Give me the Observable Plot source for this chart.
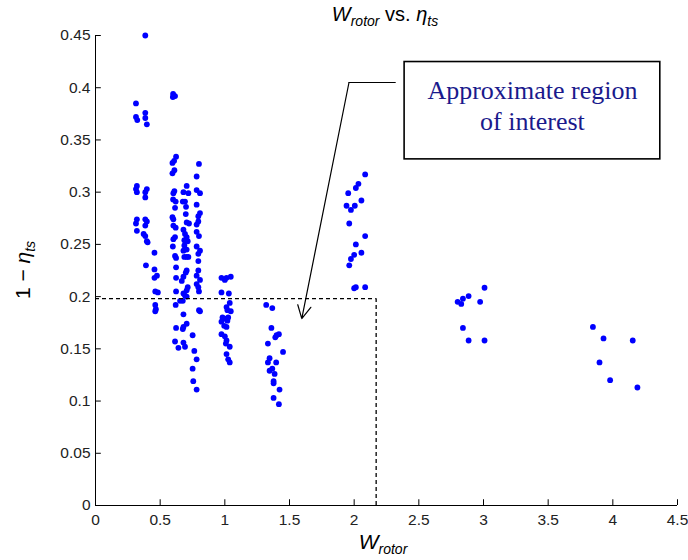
<!DOCTYPE html>
<html><head><meta charset="utf-8">
<script src="https://cdn.jsdelivr.net/npm/d3@7"></script>
<script src="https://cdn.jsdelivr.net/npm/@observablehq/plot@0.6"></script>
<style>body{margin:0;background:#fff}#chart svg{display:block}</style>
</head><body><div id="chart"></div>
<script>
// Design clusters: [W_rotor, 1 - eta_ts]
const clusterA = [[0.385,0.450],[0.313,0.385],[0.385,0.376],[0.385,0.371],[0.313,0.372],[0.323,0.369],[0.397,0.365],
  [0.32,0.306],[0.313,0.303],[0.32,0.300],[0.397,0.303],[0.385,0.300],[0.385,0.295],
  [0.32,0.274],[0.313,0.270],[0.385,0.274],[0.397,0.272],[0.385,0.268],[0.32,0.263],
  [0.372,0.260],[0.385,0.258],[0.397,0.253],[0.403,0.252],
  [0.456,0.242],[0.39,0.230],[0.456,0.226],[0.475,0.220],[0.456,0.218],[0.462,0.205],[0.482,0.204],[0.462,0.192],[0.467,0.188],[0.462,0.186]];
const clusterB = [[0.60,0.394],[0.615,0.392],[0.598,0.391],
  [0.623,0.334],[0.608,0.330],[0.595,0.328],[0.80,0.327],[0.61,0.321],[0.595,0.318],[0.782,0.315],
  [0.61,0.301],[0.602,0.299],[0.705,0.306],[0.68,0.300],[0.718,0.299],[0.782,0.302],[0.808,0.299],
  [0.60,0.293],[0.62,0.291],[0.675,0.291],[0.692,0.291],[0.782,0.288],[0.615,0.285],[0.70,0.286],[0.698,0.279],[0.808,0.280],[0.795,0.277],
  [0.595,0.276],[0.602,0.274],[0.705,0.271],[0.723,0.270],[0.795,0.272],[0.782,0.269],[0.602,0.268],[0.62,0.266],[0.68,0.264],[0.782,0.262],
  [0.692,0.260],[0.705,0.257],[0.687,0.254],[0.713,0.253],[0.80,0.258],[0.615,0.257],[0.602,0.255],[0.598,0.248],
  [0.687,0.249],[0.705,0.245],[0.68,0.244],[0.782,0.248],[0.808,0.244],[0.795,0.241],
  [0.615,0.239],[0.623,0.237],[0.687,0.238],[0.705,0.238],[0.718,0.238],[0.795,0.234],
  [0.623,0.228],[0.795,0.225],[0.705,0.225],[0.698,0.223],[0.68,0.219],[0.782,0.220],[0.623,0.218],[0.667,0.215],
  [0.808,0.216],[0.782,0.212],[0.795,0.209],[0.713,0.209],[0.705,0.206],[0.692,0.201],[0.623,0.205],[0.80,0.205],[0.68,0.203],[0.705,0.200],
  [0.654,0.196],[0.675,0.196],[0.62,0.192],[0.80,0.187],[0.808,0.186],[0.68,0.183],[0.705,0.174],[0.68,0.171],[0.623,0.170],[0.675,0.169],
  [0.615,0.157],[0.641,0.151],[0.68,0.156],[0.692,0.152],[0.751,0.163],[0.764,0.148],[0.782,0.140],[0.751,0.131],[0.756,0.119],[0.782,0.111]];
const clusterC = [[0.974,0.218],[1.0,0.216],[1.013,0.218],[1.046,0.219],[0.974,0.204],[1.031,0.203],[1.013,0.190],[1.038,0.194],[1.046,0.186],[1.02,0.187],
  [0.982,0.180],[1.0,0.179],[1.026,0.180],[1.02,0.177],[0.974,0.176],[0.995,0.172],[1.013,0.171],
  [0.974,0.164],[1.0,0.162],[1.013,0.158],[1.008,0.155],[1.038,0.152],[1.013,0.145],[1.026,0.140],[1.038,0.137]];
const clusterD = [[1.32,0.192],[1.367,0.189],[1.36,0.170],[1.418,0.164],[1.39,0.161],[1.40,0.163],[1.333,0.155],[1.45,0.147],
  [1.346,0.141],[1.333,0.137],[1.397,0.137],[1.367,0.131],[1.346,0.129],[1.385,0.126],[1.377,0.119],[1.377,0.117],[1.423,0.111],[1.377,0.103],[1.418,0.097]];
const clusterE = [[2.085,0.317],[2.033,0.308],[2.013,0.304],[1.954,0.299],[2.056,0.292],[1.941,0.287],[1.975,0.283],[2.005,0.287],
  [1.962,0.270],[2.085,0.258],[2.013,0.250],[2.0,0.240],[1.975,0.236],[2.056,0.242],[1.962,0.230],[2.013,0.209],[2.0,0.208],[2.085,0.209]];
const clusterF = [[3.008,0.2085],[2.885,0.2005],[2.841,0.198],[2.80,0.195],[2.828,0.193],[2.974,0.195],[2.841,0.170],[2.885,0.158],[3.008,0.158]];
const clusterG = [[3.846,0.171],[3.928,0.160],[4.154,0.158],[3.897,0.137],[3.979,0.120],[4.19,0.113]];

const xTicks = [0,0.5,1,1.5,2,2.5,3,3.5,4,4.5];
const yTicks = [0,0.05,0.1,0.15,0.2,0.25,0.3,0.35,0.4,0.45];

// region of interest annotation
const regionY = 0.198, regionX = 2.17;
const noteText = "Approximate region\nof interest";
const noteBox = {x1: 2.39, x2: 4.367, y1: 0.3314, y2: 0.4246};
const leader = {xa: 2.325, xb: 1.96, yb: 0.405, xTip: 1.595, yTip: 0.179};

const points = [...clusterA, ...clusterB, ...clusterC, ...clusterD, ...clusterE, ...clusterF, ...clusterG]
  .map(([x, y]) => ({x, y}));

const font = "'Liberation Sans', Arial, sans-serif";
const chart = Plot.plot({
  width: 688, height: 560,
  marginLeft: 95, marginRight: 11, marginTop: 35, marginBottom: 55,
  style: {fontFamily: font, background: "#fff", color: "#000"},
  x: {domain: [0, 4.5]},
  y: {domain: [0, 0.45]},
  marks: [
    Plot.axisX({ticks: xTicks, tickSize: 0, tickPadding: 8, fontSize: 15.5, tickFormat: d => String(d), label: null, fill: "#222"}),
    Plot.axisY({ticks: yTicks, tickSize: 0, tickPadding: 5, fontSize: 15.5, tickFormat: d => String(d), label: null, fill: "#222"}),
    Plot.ruleX([0], {y1: 0, y2: 0.45, stroke: "#000", strokeWidth: 1}),
    Plot.ruleY([0], {x1: 0, x2: 4.5, stroke: "#000", strokeWidth: 1}),
    Plot.ruleY(yTicks, {x1: 0, x2: 0.045, stroke: "#000"}),
    Plot.ruleX(xTicks, {y1: 0, y2: 0.0055, stroke: "#000"}),
    Plot.dot(points, {x: "x", y: "y", r: 2.9, fill: "#0000ff", stroke: null}),
    Plot.ruleY([regionY], {x1: 0, x2: regionX, stroke: "#000", strokeWidth: 1.3, strokeDasharray: "4,3"}),
    Plot.ruleX([regionX], {y1: 0, y2: regionY, stroke: "#000", strokeWidth: 1.3, strokeDasharray: "4,3"}),
    Plot.rect([noteBox], {x1: "x1", x2: "x2", y1: "y1", y2: "y2", fill: "#fff", stroke: "#000", strokeWidth: 1.6}),
    Plot.text([noteText], {x: (noteBox.x1 + noteBox.x2) / 2, y: 0.384, text: d => d, fontSize: 26, lineHeight: 1.2,
      fontFamily: "'Liberation Serif', 'Times New Roman', serif", fill: "#1a1a8c"}),
    Plot.ruleY([leader.yb], {x1: leader.xb, x2: leader.xa, stroke: "#000", strokeWidth: 1.2}),
    Plot.arrow([leader], {x1: "xb", y1: "yb", x2: "xTip", y2: "yTip", headLength: 18, headAngle: 55, stroke: "#000", strokeWidth: 1.2})
  ]
});

const svg = d3.select(chart);
// title
const t = svg.append("text").attr("x", 385).attr("y", 21).attr("text-anchor", "middle")
  .attr("font-family", font).attr("font-size", 20).attr("fill", "#000");
t.append("tspan").attr("font-style", "italic").text("W");
t.append("tspan").attr("font-style", "italic").attr("font-size", 14).attr("dy", 5).text("rotor");
t.append("tspan").attr("dy", -5).text(" vs. ");
t.append("tspan").attr("font-style", "italic").text("η");
t.append("tspan").attr("font-style", "italic").attr("font-size", 14).attr("dy", 5).text("ts");
// x label
const xl = svg.append("text").attr("x", 383).attr("y", 549).attr("text-anchor", "middle")
  .attr("font-family", font).attr("font-size", 21).attr("fill", "#000");
xl.append("tspan").attr("font-style", "italic").text("W");
xl.append("tspan").attr("font-style", "italic").attr("font-size", 14).attr("dy", 5).text("rotor");
// y label
const yl = svg.append("text").attr("transform", "translate(30,270) rotate(-90)").attr("text-anchor", "middle")
  .attr("font-family", font).attr("font-size", 21).attr("fill", "#000");
yl.append("tspan").text("1 − ");
yl.append("tspan").attr("font-style", "italic").text("η");
yl.append("tspan").attr("font-style", "italic").attr("font-size", 14).attr("dy", 5).text("ts");

document.getElementById("chart").append(chart);
</script>
</body></html>
